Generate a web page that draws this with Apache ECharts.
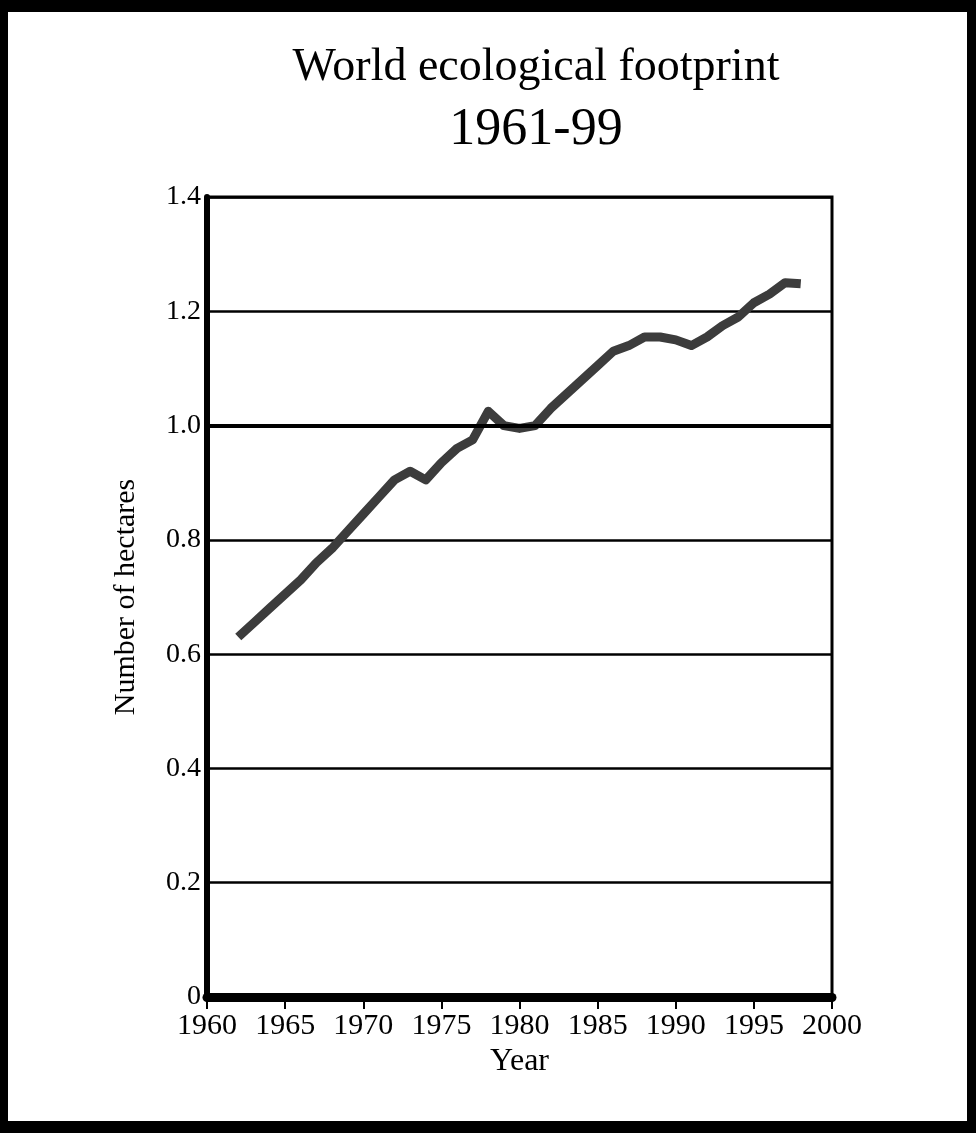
<!DOCTYPE html>
<html>
<head>
<meta charset="utf-8">
<script src="https://cdn.jsdelivr.net/npm/echarts@6/dist/echarts.min.js"></script>
<style>html,body{margin:0;padding:0;background:#fff;}#c{width:976px;height:1133px;}</style>
</head>
<body>
<div id="c"></div>
<script>
const titleLine1 = 'World ecological footprint';
const titleLine2 = '1961-99';
const xAxisName = 'Year';
const yAxisName = 'Number of hectares';
const years = [1962,1963,1964,1965,1966,1967,1968,1969,1970,1971,1972,1973,1974,1975,1976,1977,1978,1979,1980,1981,1982,1983,1984,1985,1986,1987,1988,1989,1990,1991,1992,1993,1994,1995,1996,1997,1998];
const hectares = [0.63,0.655,0.68,0.705,0.73,0.76,0.785,0.815,0.845,0.875,0.905,0.92,0.905,0.935,0.96,0.975,1.025,1.0,0.995,1.0,1.03,1.055,1.08,1.105,1.13,1.14,1.155,1.155,1.15,1.14,1.155,1.175,1.19,1.215,1.23,1.25,1.248];
const yRange = {min: 0, max: 1.4, interval: 0.2};
const xRange = {min: 1960, max: 2000, interval: 5};

const font = 'Liberation Serif';
const chart = echarts.init(document.getElementById('c'), null, {renderer: 'canvas'});
const pairs = years.map((y, i) => [y, hectares[i]]);

chart.setOption({
  backgroundColor: '#ffffff',
  animation: false,
  title: [
    {text: titleLine1, left: 531, top: 40, textAlign: 'center',
     textStyle: {fontFamily: font, fontSize: 46, fontWeight: 'normal', color: '#000'}},
    {text: titleLine2, left: 531, top: 99, textAlign: 'center',
     textStyle: {fontFamily: font, fontSize: 52, fontWeight: 'normal', color: '#000'}}
  ],
  grid: {left: 207, right: 144, top: 197, bottom: 136, show: true,
         borderColor: '#000', borderWidth: 3, backgroundColor: 'transparent'},
  xAxis: {
    type: 'value', min: xRange.min, max: xRange.max, interval: xRange.interval,
    name: xAxisName, nameLocation: 'middle', nameGap: 48,
    nameTextStyle: {fontFamily: font, fontSize: 32, color: '#000'},
    axisLine: {show: true, lineStyle: {color: '#000', width: 9}},
    axisTick: {show: true, length: 12, lineStyle: {color: '#000', width: 2}},
    axisLabel: {fontFamily: font, fontSize: 30, color: '#000', margin: 14,
                formatter: v => String(v)},
    splitLine: {show: false}
  },
  yAxis: {
    type: 'value', min: yRange.min, max: yRange.max, interval: yRange.interval,
    name: yAxisName, nameLocation: 'middle', nameGap: 66,
    nameTextStyle: {fontFamily: font, fontSize: 30, color: '#000'},
    axisLine: {show: true, lineStyle: {color: '#000', width: 6}},
    axisTick: {show: false},
    axisLabel: {fontFamily: font, fontSize: 28, color: '#000', margin: 6,
                formatter: v => (v === 0 ? '0' : v.toFixed(1))},
    splitLine: {show: true, lineStyle: {color: '#000', width: 2.5}}
  },
  series: [{
    type: 'line', data: pairs, showSymbol: false, symbol: 'none',
    lineStyle: {color: '#3c3c3c', width: 9, join: 'round', cap: 'butt'},
    markLine: {silent: true, symbol: 'none', label: {show: false},
               lineStyle: {color: '#000', width: 4, type: 'solid'},
               data: [{yAxis: 1.0}]},
    z: 3
  }],
  graphic: [
    {type: 'rect', shape: {x: 0, y: 0, width: 976, height: 12}, style: {fill: '#000'}, silent: true},
    {type: 'rect', shape: {x: 0, y: 1121, width: 976, height: 12}, style: {fill: '#000'}, silent: true},
    {type: 'rect', shape: {x: 0, y: 0, width: 8, height: 1133}, style: {fill: '#000'}, silent: true},
    {type: 'rect', shape: {x: 967, y: 0, width: 9, height: 1133}, style: {fill: '#000'}, silent: true}
  ]
});
</script>
</body>
</html>
